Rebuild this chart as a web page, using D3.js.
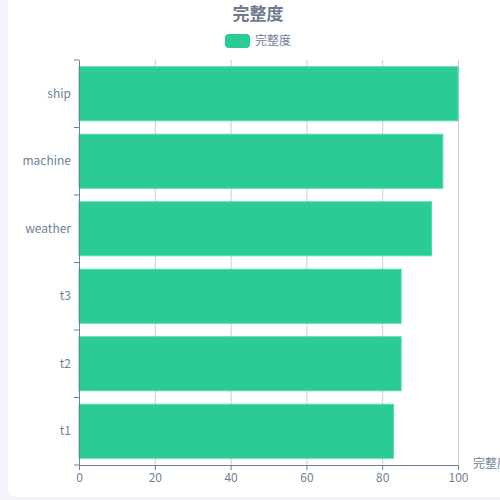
<!DOCTYPE html>
<html>
<head>
<meta charset="utf-8">
<script src="https://cdn.jsdelivr.net/npm/d3@7"></script>
<style>
  body { margin: 0; background: #f3f4f9; overflow: hidden; }
  #card { position: absolute; left: 8px; top: -10px; width: 520px; height: 507px;
          background: #fff; border-radius: 8px; }
  svg { position: absolute; left: 0; top: 0; }
  text { font-family: "Noto Sans CJK SC", "Noto Sans", sans-serif; }
</style>
</head>
<body>
<div id="card"></div>
<div id="graph"></div>
<script>
const categories = ["t1", "t2", "t3", "weather", "machine", "ship"]
const values = [83, 85, 85, 93, 96, 100]
const xTicks = [0, 20, 40, 60, 80, 100]
const title = "完整度"
const seriesName = "完整度"

var width = 500, height = 500
var margin = {top: 60, right: 42, bottom: 35, left: 79}
var textColor = "#6e7f99", barColor = "#2bcb96"

var svg = d3.select("#graph").append("svg")
    .attr("width", width)
    .attr("height", height)

var x = d3.scaleLinear()
    .domain([0, 100])
    .range([margin.left, width - margin.right])

var y = d3.scaleBand()
    .domain(categories.slice().reverse())
    .range([margin.top, height - margin.bottom])
    .paddingInner(0.2)
    .paddingOuter(0.1)

var yFull = d3.scaleBand()
    .domain(categories.slice().reverse())
    .range([margin.top, height - margin.bottom])

// grid
svg.append("g")
    .attr("transform", "translate(0," + (height - margin.bottom) + ")")
    .call(d3.axisBottom(x)
        .tickValues(xTicks)
        .tickSize(-(height - margin.top - margin.bottom))
        .tickFormat(""))
    .call(g => g.select(".domain").remove())
    .call(g => g.selectAll("line").attr("stroke", "#cccccc"))

// bars
svg.append("g").selectAll("rect")
    .data(categories)
    .join("rect")
    .attr("x", x(0))
    .attr("y", d => y(d))
    .attr("width", (d, i) => x(values[i]) - x(0))
    .attr("height", y.bandwidth())
    .attr("fill", barColor)
    .attr("stroke", "#4fdcaa")
    .attr("stroke-width", 1)

// x axis
var xAxis = svg.append("g")
    .attr("transform", "translate(0," + (height - margin.bottom) + ")")
    .call(d3.axisBottom(x).tickValues(xTicks).tickSize(5).tickPadding(3))
xAxis.select(".domain").attr("stroke", textColor)
xAxis.selectAll("line").attr("stroke", textColor)
xAxis.selectAll("text").attr("fill", textColor).style("font-size", "12px")

// y axis
var yAxis = svg.append("g")
    .attr("transform", "translate(" + margin.left + ",0)")
    .call(d3.axisLeft(yFull).tickSize(0).tickPadding(8))
yAxis.select(".domain").attr("stroke", textColor)
yAxis.selectAll("text").attr("fill", textColor).style("font-size", "12px")

// boundary ticks between categories
var bounds = categories.map(c => yFull(c)).concat([height - margin.bottom])
svg.append("g").selectAll("line")
    .data(bounds)
    .join("line")
    .attr("x1", margin.left - 5)
    .attr("x2", margin.left)
    .attr("y1", d => d)
    .attr("y2", d => d)
    .attr("stroke", textColor)

// axis name
svg.append("text")
    .attr("x", 473)
    .attr("y", height - margin.bottom + 3)
    .attr("fill", textColor)
    .style("font-size", "12px")
    .text(seriesName)

// title
svg.append("text")
    .attr("x", 258)
    .attr("y", 20)
    .attr("text-anchor", "middle")
    .attr("fill", "#6e7a8f")
    .style("font-size", "17px")
    .style("font-weight", "bold")
    .text(title)

// legend
svg.append("rect")
    .attr("x", 225).attr("y", 34)
    .attr("width", 25).attr("height", 14)
    .attr("rx", 4)
    .attr("fill", barColor)
svg.append("text")
    .attr("x", 255).attr("y", 45)
    .attr("fill", textColor)
    .style("font-size", "12px")
    .text(seriesName)
</script>
</body>
</html>
